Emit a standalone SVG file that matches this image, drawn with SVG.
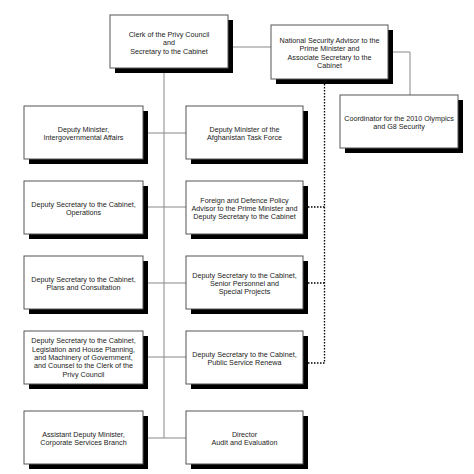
<svg xmlns="http://www.w3.org/2000/svg" width="474" height="474" viewBox="0 0 474 474">
<style>
.box{fill:#fff;stroke:#555;stroke-width:1}
.sh{fill:#000}
.ln{stroke:#888;stroke-width:1;fill:none}
.dt{stroke:#000;stroke-width:1.3;fill:none;stroke-dasharray:1.5,1.5}
text{font-family:"Liberation Sans",Arial,sans-serif;font-size:7.2px;fill:#222;text-anchor:middle}
</style>
<rect width="474" height="474" fill="#fff"/>
<g id="connectors">
<path class="ln" d="M164,68V438M228,47H271M388,52H410V95M143,133H186M143,207H186M143,283H186M143,357H186M143,438H186"/>
<path class="dt" d="M324.5,84V363M308,207H324.5M308,283H324.5M308,363H324.5"/>
</g>
<g id="clerk"><rect class="sh" x="115" y="20" width="118" height="53"/><rect class="box" x="110" y="15" width="118" height="53"/>
<text x="169" y="37">Clerk of the Privy Council</text><text x="169" y="45.3">and</text><text x="169" y="53.6">Secretary to the Cabinet</text></g>
<g id="nsa"><rect class="sh" x="276" y="30" width="117" height="54"/><rect class="box" x="271" y="25" width="117" height="54"/>
<text x="329.5" y="43">National Security Advisor to the</text><text x="329.5" y="51.3">Prime Minister and</text><text x="329.5" y="59.6">Associate Secretary to the</text><text x="329.5" y="67.9">Cabinet</text></g>
<g id="coord"><rect class="sh" x="345" y="100" width="118" height="53"/><rect class="box" x="340" y="95" width="118" height="53"/>
<text x="399" y="121">Coordinator for the 2010 Olympics</text><text x="399" y="129.3">and G8 Security</text></g>
<g id="dm-iga"><rect class="sh" x="29" y="111" width="119" height="53"/><rect class="box" x="24" y="106" width="119" height="53"/>
<text x="83.5" y="132">Deputy Minister,</text><text x="83.5" y="140.3">Intergovernmental Affairs</text></g>
<g id="dm-afghan"><rect class="sh" x="191" y="111" width="117" height="53"/><rect class="box" x="186" y="106" width="117" height="53"/>
<text x="244.5" y="132">Deputy Minister of the</text><text x="244.5" y="140.3">Afghanistan Task Force</text></g>
<g id="ds-ops"><rect class="sh" x="29" y="186" width="119" height="53"/><rect class="box" x="24" y="181" width="119" height="53"/>
<text x="83.5" y="207">Deputy Secretary to the Cabinet,</text><text x="83.5" y="215.3">Operations</text></g>
<g id="fdpa"><rect class="sh" x="191" y="186" width="117" height="53"/><rect class="box" x="186" y="181" width="117" height="53"/>
<text x="244.5" y="202.8">Foreign and Defence Policy</text><text x="244.5" y="211.1">Advisor to the Prime Minister and</text><text x="244.5" y="219.4">Deputy Secretary to the Cabinet</text></g>
<g id="ds-plans"><rect class="sh" x="29" y="261" width="119" height="53"/><rect class="box" x="24" y="256" width="119" height="53"/>
<text x="83.5" y="282">Deputy Secretary to the Cabinet,</text><text x="83.5" y="290.3">Plans and Consultation</text></g>
<g id="ds-senior"><rect class="sh" x="191" y="261" width="117" height="53"/><rect class="box" x="186" y="256" width="117" height="53"/>
<text x="244.5" y="277.8">Deputy Secretary to the Cabinet,</text><text x="244.5" y="286.1">Senior Personnel and</text><text x="244.5" y="294.4">Special Projects</text></g>
<g id="ds-legis"><rect class="sh" x="29" y="336" width="119" height="53"/><rect class="box" x="24" y="331" width="119" height="53"/>
<text x="83.5" y="343.4">Deputy Secretary to the Cabinet,</text><text x="83.5" y="351.7">Legislation and House Planning,</text><text x="83.5" y="360">and Machinery of Government,</text><text x="83.5" y="368.3">and Counsel to the Clerk of the</text><text x="83.5" y="376.6">Privy Council</text></g>
<g id="ds-psr"><rect class="sh" x="191" y="336" width="117" height="53"/><rect class="box" x="186" y="331" width="117" height="53"/>
<text x="244.5" y="357">Deputy Secretary to the Cabinet,</text><text x="244.5" y="365.3">Public Service Renewa</text></g>
<g id="adm-csb"><rect class="sh" x="29" y="416" width="119" height="53"/><rect class="box" x="24" y="411" width="119" height="53"/>
<text x="83.5" y="437">Assistant Deputy Minister,</text><text x="83.5" y="445.3">Corporate Services Branch</text></g>
<g id="dir-audit"><rect class="sh" x="191" y="416" width="117" height="53"/><rect class="box" x="186" y="411" width="117" height="53"/>
<text x="244.5" y="437">Director</text><text x="244.5" y="445.3">Audit and Evaluation</text></g>
</svg>
